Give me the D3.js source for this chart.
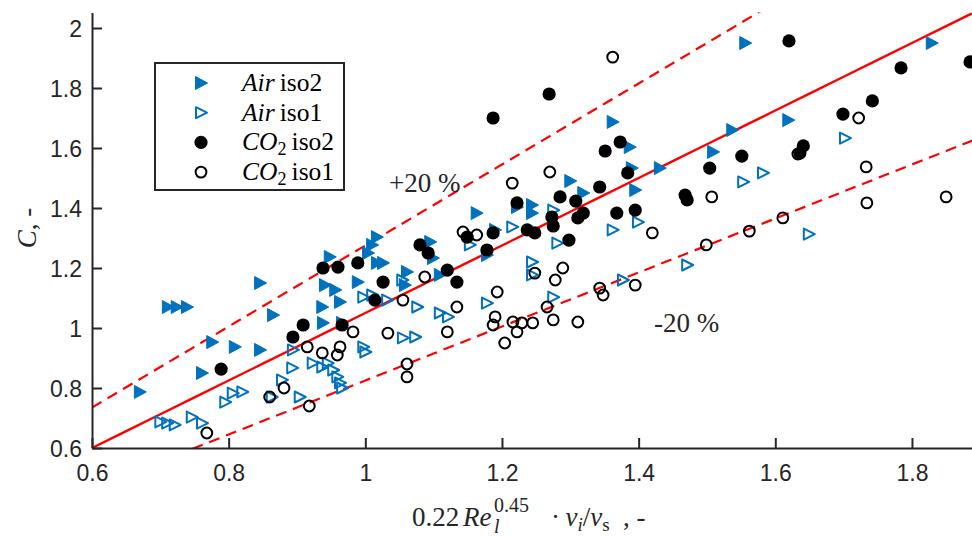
<!DOCTYPE html>
<html>
<head>
<meta charset="utf-8">
<script src="https://cdn.jsdelivr.net/npm/d3@7"></script>
<style>
  html, body { margin: 0; padding: 0; background: #fff; }
  svg { display: block; }
</style>
</head>
<body>
<svg id="chart" width="972" height="536"></svg>
<script>
// Measured vs. correlated C for air and CO2, two isotherms each: [x, C]
const airIso2 = [[0.670,0.787],[0.711,1.070],[0.724,1.070],[0.739,1.070],[0.761,0.850],[0.776,0.953],[0.809,0.937],[0.846,0.927],[0.846,1.150],[0.865,1.043],[0.937,1.070],[0.938,1.017],[0.963,1.087],[0.966,1.017],[0.941,1.143],[0.956,1.127],[0.948,1.237],[0.989,1.153],[1.004,1.250],[1.010,1.277],[1.017,1.303],[1.017,1.217],[1.026,1.217],[1.058,1.143],[1.061,1.187],[1.095,1.287],[1.099,1.233],[1.109,1.177],[1.163,1.383],[1.190,1.327],[1.178,1.243],[1.222,1.403],[1.244,1.410],[1.244,1.383],[1.300,1.490],[1.319,1.450],[1.362,1.687],[1.387,1.603],[1.390,1.533],[1.395,1.460],[1.431,1.533],[1.509,1.587],[1.537,1.660],[1.556,1.950],[1.619,1.693],[1.829,1.950]];
const airIso1 = [[0.700,0.687],[0.710,0.683],[0.721,0.677],[0.746,0.703],[0.761,0.683],[0.795,0.753],[0.806,0.783],[0.820,0.787],[0.863,0.770],[0.878,0.827],[0.893,0.867],[0.904,0.770],[0.894,0.927],[0.923,0.883],[0.937,0.870],[0.945,0.883],[0.953,0.860],[0.959,0.837],[0.963,0.817],[0.966,0.800],[0.997,0.937],[1.000,0.920],[0.997,1.103],[1.010,1.110],[1.032,1.093],[1.054,1.160],[1.076,1.070],[1.055,0.967],[1.073,0.970],[1.109,1.050],[1.121,1.037],[1.153,1.277],[1.178,1.083],[1.215,1.337],[1.244,1.220],[1.244,1.177],[1.275,1.393],[1.281,1.283],[1.275,1.103],[1.362,1.327],[1.399,1.353],[1.377,1.160],[1.471,1.210],[1.553,1.487],[1.582,1.517],[1.649,1.313],[1.702,1.633]];
const co2Iso2 = [[0.789,0.863],[0.894,0.970],[0.909,1.010],[0.938,1.200],[0.960,1.203],[0.966,1.010],[0.989,1.217],[1.014,1.093],[1.026,1.153],[1.080,1.277],[1.092,1.250],[1.120,1.193],[1.134,1.153],[1.149,1.303],[1.187,1.317],[1.178,1.260],[1.187,1.700],[1.222,1.417],[1.237,1.327],[1.248,1.317],[1.269,1.780],[1.273,1.370],[1.275,1.340],[1.285,1.437],[1.298,1.293],[1.308,1.423],[1.319,1.383],[1.311,1.367],[1.343,1.470],[1.351,1.590],[1.373,1.620],[1.368,1.383],[1.395,1.393],[1.384,1.517],[1.468,1.443],[1.471,1.427],[1.504,1.533],[1.551,1.573],[1.620,1.957],[1.636,1.583],[1.641,1.607],[1.699,1.713],[1.742,1.757],[1.784,1.867],[1.885,1.887]];
const co2Iso1 = [[0.768,0.650],[0.860,0.770],[0.881,0.800],[0.918,0.740],[0.915,0.937],[0.937,0.917],[0.959,0.910],[0.963,0.937],[0.982,0.987],[1.033,0.983],[1.055,1.093],[1.061,0.880],[1.061,0.837],[1.087,1.170],[1.120,0.987],[1.134,1.070],[1.143,1.320],[1.163,1.310],[1.193,1.120],[1.190,1.037],[1.187,1.010],[1.204,0.950],[1.216,1.020],[1.229,1.017],[1.222,0.987],[1.245,1.017],[1.215,1.483],[1.270,1.520],[1.248,1.183],[1.266,1.070],[1.275,1.027],[1.278,1.160],[1.289,1.200],[1.311,1.020],[1.343,1.133],[1.348,1.110],[1.362,1.903],[1.395,1.143],[1.420,1.317],[1.499,1.277],[1.507,1.437],[1.562,1.323],[1.611,1.367],[1.633,1.580],[1.722,1.700],[1.733,1.537],[1.734,1.417],[1.850,1.437]];

// Correlation line C = k*x + c0, and the +/-20 % band on the slope
const fitSlope = 1.125;
const fitIntercept = -0.075;
const bandFactors = [1.2, 0.8];
const bandLabels = ["+20 %", "-20 %"];

const xTicks = [0.6, 0.8, 1, 1.2, 1.4, 1.6, 1.8];
const yTicks = [0.6, 0.8, 1, 1.2, 1.4, 1.6, 1.8, 2];
const xDomain = [0.6, 1.9];
const yDomain = [0.6, 2.052];

const BLUE = "#0072BD", INK = "#262626", RED = "#FF0000";

const svg = d3.select("#chart");
const plot = { left: 92, bottom: 448, pxPerX: 683.3, pxPerY: 300 };
const x = d3.scaleLinear().domain(xDomain)
  .range([plot.left, plot.left + (xDomain[1] - xDomain[0]) * plot.pxPerX]);
const y = d3.scaleLinear().domain(yDomain)
  .range([plot.bottom, plot.bottom - (yDomain[1] - yDomain[0]) * plot.pxPerY]);

svg.append("clipPath").attr("id", "plotClip")
  .append("rect")
  .attr("x", x(xDomain[0])).attr("y", y(yDomain[1]))
  .attr("width", x(xDomain[1]) - x(xDomain[0]))
  .attr("height", y(yDomain[0]) - y(yDomain[1]));

// Reference lines
const lineGen = d3.line().x(d => x(d[0])).y(d => y(d[1]));
const xs = d3.range(xDomain[0], xDomain[1] + 0.001, 0.05);
const lines = svg.append("g").attr("clip-path", "url(#plotClip)");
lines.append("path")
  .attr("d", lineGen(xs.map(v => [v, fitSlope * v + fitIntercept])))
  .attr("fill", "none").attr("stroke", RED).attr("stroke-width", 2.4);
bandFactors.forEach(f => {
  lines.append("path")
    .attr("d", lineGen(xs.map(v => [v, f * fitSlope * v + fitIntercept])))
    .attr("fill", "none").attr("stroke", RED).attr("stroke-width", 2.2)
    .attr("stroke-dasharray", "11,7");
});

// Marker shapes
const triFilled = "M-5.5,-6.5L6.5,0L-5.5,6.5Z";
const triOpen = "M-5,-5.5L6,0L-5,5.5Z";
function drawMarker(g, kind) {
  if (kind === "airIso2") {
    g.append("path").attr("d", triFilled).attr("fill", BLUE)
      .attr("stroke", BLUE).attr("stroke-width", 1).attr("stroke-linejoin", "round");
  } else if (kind === "airIso1") {
    g.append("path").attr("d", triOpen).attr("fill", "none")
      .attr("stroke", BLUE).attr("stroke-width", 2).attr("stroke-linejoin", "round");
  } else if (kind === "co2Iso2") {
    g.append("circle").attr("r", 6.6).attr("fill", "#000");
  } else {
    g.append("circle").attr("r", 5.4).attr("fill", "none")
      .attr("stroke", "#000").attr("stroke-width", 2);
  }
}

const series = [
  { key: "airIso2", data: airIso2 },
  { key: "airIso1", data: airIso1 },
  { key: "co2Iso2", data: co2Iso2 },
  { key: "co2Iso1", data: co2Iso1 }
];
const marks = svg.append("g");
series.forEach(s => {
  marks.append("g").selectAll("g").data(s.data).join("g")
    .attr("transform", d => `translate(${x(d[0])},${y(d[1])})`)
    .each(function () { drawMarker(d3.select(this), s.key); });
});

// Axes (ticks drawn inward)
const xAxis = svg.append("g").attr("transform", `translate(0,${plot.bottom})`)
  .call(d3.axisBottom(x).tickValues(xTicks).tickSize(-10).tickSizeOuter(0)
    .tickFormat(d3.format("")));
const yAxis = svg.append("g").attr("transform", `translate(${plot.left},0)`)
  .call(d3.axisLeft(y).tickValues(yTicks).tickSize(-10).tickSizeOuter(0)
    .tickFormat(d3.format("")));
[xAxis, yAxis].forEach(a => {
  a.select(".domain").attr("stroke", INK).attr("stroke-width", 2);
  a.selectAll(".tick line").attr("stroke", INK).attr("stroke-width", 2);
  a.selectAll(".tick text").attr("fill", INK)
    .style("font-family", "'Liberation Sans', Arial, sans-serif")
    .style("font-size", "23px");
});
xAxis.selectAll(".tick text").attr("y", 17).attr("dy", "0.71em");
yAxis.selectAll(".tick text").attr("x", -10).attr("dy", "0.35em");

const serif = "'Liberation Serif', 'Times New Roman', serif";

// Band labels
svg.append("text").attr("x", 389).attr("y", 192)
  .style("font-family", serif).style("font-size", "27px").attr("fill", INK)
  .text(bandLabels[0]);
svg.append("text").attr("x", 654).attr("y", 332)
  .style("font-family", serif).style("font-size", "27px").attr("fill", INK)
  .text(bandLabels[1]);

// Legend
const legend = svg.append("g");
legend.append("rect").attr("x", 155).attr("y", 63).attr("width", 189).attr("height", 127)
  .attr("fill", "#fff").attr("stroke", INK).attr("stroke-width", 2);
const legendRows = [
  { key: "airIso2", gas: "Air", sub: null, iso: "iso2" },
  { key: "airIso1", gas: "Air", sub: null, iso: "iso1" },
  { key: "co2Iso2", gas: "CO", sub: "2", iso: "iso2" },
  { key: "co2Iso1", gas: "CO", sub: "2", iso: "iso1" }
];
legendRows.forEach((r, i) => {
  const cy = 83 + i * 29.7;
  const g = legend.append("g").attr("transform", `translate(201,${cy})`);
  drawMarker(g, r.key);
  const t = legend.append("text").attr("x", 242).attr("y", cy + 8)
    .style("font-family", serif).style("font-size", "25.5px").attr("fill", "#000");
  t.append("tspan").style("font-style", "italic").text(r.gas);
  if (r.sub) {
    t.append("tspan").attr("dy", 5).style("font-size", "18px").text(r.sub);
    t.append("tspan").attr("dy", -5).text("\u2009" + r.iso);
  } else {
    t.append("tspan").text("\u2009" + r.iso);
  }
});

// Axis titles
const xl = svg.append("text").attr("y", 526)
  .style("font-family", serif).style("font-size", "27px").attr("fill", INK);
xl.append("tspan").attr("x", 412).text("0.22");
xl.append("tspan").attr("x", 463).style("font-style", "italic").text("Re");
xl.append("tspan").attr("x", 494).attr("dy", 7)
  .style("font-style", "italic").style("font-size", "20px").text("l");
xl.append("tspan").attr("x", 494).attr("dy", -21).style("font-size", "20px").text("0.45");
xl.append("tspan").attr("x", 551).attr("dy", 14).text("\u00B7\u2009");
xl.append("tspan").style("font-style", "italic").text("\u03BD");
xl.append("tspan").style("font-style", "italic").style("font-size", "19px").attr("dy", 5).text("i");
xl.append("tspan").attr("dy", -5).text("/");
xl.append("tspan").style("font-style", "italic").text("\u03BD");
xl.append("tspan").style("font-size", "19px").attr("dy", 5).text("s");
xl.append("tspan").attr("dy", -5).text("\u2002, -");

const yl = svg.append("text").attr("transform", "translate(36,228) rotate(-90)")
  .attr("text-anchor", "middle")
  .style("font-family", serif).style("font-size", "27px").attr("fill", INK);
yl.append("tspan").style("font-style", "italic").text("C");
yl.append("tspan").text(", -");
</script>
</body>
</html>
